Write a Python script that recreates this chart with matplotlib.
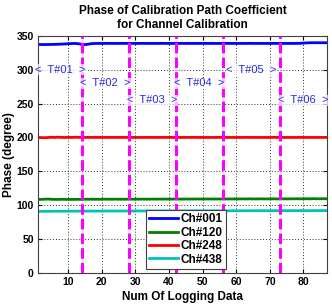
import matplotlib
matplotlib.use("Agg")
import matplotlib.pyplot as plt
import numpy as np

plt.rcParams['font.family'] = ['Liberation Sans', 'DejaVu Sans']

x_index = list(range(1, 88))
ch001 = [337.5, 337.4, 337.3, 337.4, 337.5, 337.6, 337.8, 338.0, 338.2, 338.5,
         338.8, 339.0, 338.6, 337.6, 337.2, 338.0, 338.7, 339.0, 339.0, 339.0,
         339.0, 339.1, 339.0, 339.0, 339.0, 339.0, 339.1, 339.0, 339.0, 339.0,
         339.0, 339.1, 339.0, 339.0, 339.0, 339.0, 339.0, 339.1, 339.0, 339.0,
         339.0, 339.0, 339.0, 339.1, 339.0, 339.0, 339.0, 339.0, 339.0, 339.1,
         339.0, 339.0, 339.0, 339.0, 339.0, 339.0, 339.1, 339.0, 339.0, 339.0,
         339.0, 339.0, 339.0, 339.1, 339.0, 339.0, 339.0, 339.0, 339.0, 339.0,
         339.1, 339.0, 339.0, 339.0, 339.0, 339.0, 339.0, 339.1, 339.2, 339.5,
         339.8, 340.0, 340.0, 340.1, 340.0, 340.0, 340.0]
ch120 = [108.3, 108.4, 108.6, 108.9, 108.5, 108.4, 108.3, 108.5, 108.4, 108.4,
         108.3, 108.4, 108.5, 108.3, 108.6, 108.6, 108.6, 108.5, 108.6, 108.6,
         108.7, 108.6, 108.6, 108.7, 108.6, 108.6, 108.6, 108.7, 108.7, 108.7,
         108.7, 108.8, 108.7, 108.7, 108.8, 108.7, 108.8, 108.8, 108.8, 108.8,
         108.8, 108.9, 108.8, 108.8, 108.9, 108.8, 108.9, 108.9, 108.9, 108.9,
         108.9, 109.0, 108.9, 108.9, 109.0, 108.9, 109.0, 109.0, 109.0, 109.0,
         109.0, 109.1, 109.0, 109.2, 109.0, 109.1, 109.1, 109.1, 109.1, 109.1,
         109.2, 109.1, 109.1, 109.2, 109.1, 109.2, 109.2, 109.3, 109.2, 109.2,
         109.3, 109.2, 109.5, 109.2, 109.3, 109.3, 109.3]
ch248 = [200.0, 199.8, 199.6, 199.9, 200.2, 200.0, 200.3, 200.1, 199.9, 200.2,
         200.0, 200.3, 200.1, 199.9, 200.0, 200.1, 200.0, 200.0, 200.1, 200.0,
         200.0, 200.0, 200.1, 200.0, 200.0, 200.0, 200.0, 200.1, 200.0, 200.0,
         200.0, 200.0, 200.0, 200.1, 200.0, 200.0, 200.0, 200.0, 200.0, 200.1,
         200.0, 200.0, 200.0, 200.0, 200.0, 200.0, 200.1, 200.0, 200.0, 200.0,
         200.0, 200.0, 200.0, 200.0, 200.1, 200.0, 200.0, 200.0, 200.0, 200.0,
         200.0, 200.0, 200.1, 200.0, 200.0, 200.0, 200.0, 200.0, 200.0, 200.0,
         200.1, 200.0, 200.0, 200.0, 200.0, 200.0, 200.0, 200.0, 200.1, 200.0,
         200.0, 200.0, 200.0, 200.0, 200.0, 200.0, 200.0]
ch438 = [90.6, 90.7, 90.8, 90.7, 90.8, 90.9, 90.8, 90.9, 90.9, 91.0,
         90.9, 91.0, 91.0, 91.1, 91.0, 91.1, 91.0, 91.1, 91.1, 91.1,
         91.2, 91.1, 91.2, 91.1, 91.2, 91.2, 91.2, 91.3, 91.2, 91.2,
         91.3, 91.2, 91.3, 91.3, 91.3, 91.3, 91.3, 91.4, 91.3, 91.3,
         91.4, 91.3, 91.4, 91.4, 91.4, 91.4, 91.4, 91.5, 91.4, 91.4,
         91.5, 91.4, 91.5, 91.5, 91.5, 91.5, 91.5, 91.5, 91.6, 91.5,
         91.5, 91.6, 91.5, 91.6, 91.6, 91.6, 91.7, 91.6, 91.6, 91.6,
         91.7, 91.6, 91.7, 91.7, 91.6, 91.7, 91.7, 91.7, 91.7, 91.8,
         91.7, 91.7, 91.8, 91.7, 91.8, 91.8, 91.8]

series_labels = ["Ch#001", "Ch#120", "Ch#248", "Ch#438"]
series_colors = ["#0000ff", "#008000", "#ff0000", "#00c0c0"]

boundaries = [14, 28, 42, 56, 73]
segment_edges = [1, 14, 28, 42, 56, 73, 87]
segment_labels = ["T#01", "T#02", "T#03", "T#04", "T#05", "T#06"]
segment_label_y = [300, 280, 255, 280, 300, 255]

x_ticks = [10, 20, 30, 40, 50, 60, 70, 80]
y_ticks = [0, 50, 100, 150, 200, 250, 300, 350]

fig = plt.figure(figsize=(3.32, 3.05), dpi=100)
ax = fig.add_axes([0.1145, 0.106, 0.8705, 0.776])

for vals, lab, col in zip([ch001, ch120, ch248, ch438], series_labels, series_colors):
    ax.plot(x_index, vals, color=col, lw=2, label=lab)

for b in boundaries:
    ax.axvline(b, color="#ff00ff", lw=2.2, ls=(0, (3.5, 1.3)), zorder=3)

for i, lab in enumerate(segment_labels):
    cx = (segment_edges[i] + segment_edges[i + 1]) / 2
    ax.text(cx, segment_label_y[i], "<  " + lab + "  >", color="#2828e0",
            fontsize=8, ha="center", va="center", zorder=5,
            bbox=dict(facecolor="white", alpha=0.7, edgecolor="none", pad=0.5))

ax.set_xlim(1, 87)
ax.set_ylim(0, 350)
ax.set_xticks(x_ticks)
ax.set_yticks(y_ticks)
ax.grid(True, color="#303030", ls=(0, (1, 2)), lw=0.7)
ax.tick_params(labelsize=7.5, length=3, direction="in", top=True, right=True, pad=3)
for t in ax.get_xticklabels() + ax.get_yticklabels():
    t.set_fontweight("bold")
for s in ax.spines.values():
    s.set_color("#404040")
    s.set_linewidth(0.8)

ax.set_xlabel("Num Of Logging Data", fontsize=8.5, fontweight="bold", labelpad=3)
ax.set_ylabel("Phase (degree)", fontsize=8.5, fontweight="bold", labelpad=1)
ax.set_title("Phase of Calibration Path Coefficient\nfor Channel Calibration",
             fontsize=8.5, fontweight="bold", pad=6, linespacing=1.15)

leg = ax.legend(loc="lower left", bbox_to_anchor=(0.365, 0.005),
                prop={"weight": "bold", "size": 8.5}, handlelength=2.4,
                handletextpad=0.25, labelspacing=0.12, borderpad=0.3,
                borderaxespad=0.2,
                fancybox=False, framealpha=1, edgecolor="#404040")
leg.get_frame().set_linewidth(0.8)
leg.set_zorder(6)

fig.savefig("out.png", dpi=100)
